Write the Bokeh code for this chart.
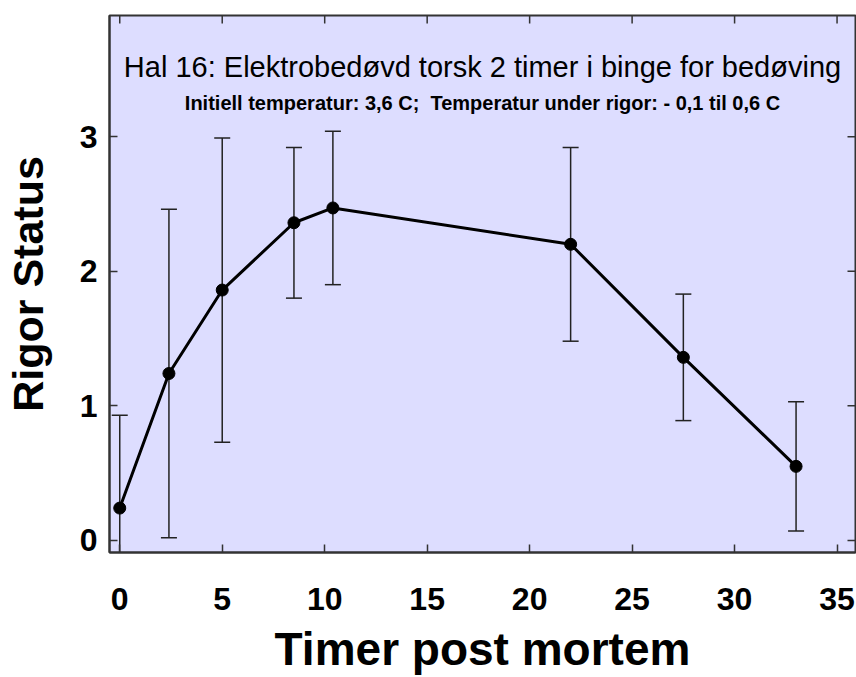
from bokeh.plotting import figure
from bokeh.models import LinearAxis, Range1d, Label, FixedTicker
from bokeh.embed import file_html
from bokeh.resources import INLINE

# data
hours = [0, 2.4, 5.0, 8.5, 10.4, 22.0, 27.5, 33.0]
rigor = [0.24, 1.24, 1.86, 2.36, 2.47, 2.20, 1.36, 0.55]
err = [0.69, 1.22, 1.13, 0.56, 0.57, 0.72, 0.47, 0.48]
x_ticks = [0, 5, 10, 15, 20, 25, 30, 35]
y_ticks = [0, 1, 2, 3]
title_text = "Hal 16: Elektrobedøvd torsk 2 timer i binge for bedøving"
subtitle_text = "Initiell temperatur: 3,6 C;\u00a0 Temperatur under rigor: - 0,1 til 0,6 C"

upper = [r + e for r, e in zip(rigor, err)]
lower = [r - e for r, e in zip(rigor, err)]

FONT = "Liberation Sans"
TICK = "#333333"

p = figure(width=856, height=677, output_backend="svg", toolbar_location=None,
           x_range=Range1d(-0.5, 35.9), y_range=Range1d(-0.09, 3.9),
           x_axis_location=None, y_axis_location=None,
           min_border_left=109, min_border_right=1, min_border_top=15, min_border_bottom=123)
p.background_fill_color = "#DDDDFF"
p.border_fill_color = "white"
p.outline_line_color = TICK
p.outline_line_width = 2
p.xgrid.visible = False
p.ygrid.visible = False

xb = LinearAxis(axis_label="Timer post mortem", ticker=FixedTicker(ticks=x_ticks))
yl = LinearAxis(axis_label="Rigor Status", ticker=FixedTicker(ticks=y_ticks))
for ax in (xb, yl):
    ax.major_tick_in = 8
    ax.major_tick_out = 0
    ax.minor_tick_in = 0
    ax.minor_tick_out = 0
    ax.major_tick_line_color = TICK
    ax.major_tick_line_width = 1.5
    ax.axis_line_color = TICK
    ax.axis_line_width = 2
    ax.major_label_text_font = FONT
    ax.major_label_text_font_style = "bold"
    ax.major_label_text_font_size = "32px"
    ax.major_label_text_color = "black"
    ax.axis_label_text_font = FONT
    ax.axis_label_text_font_style = "bold"
    ax.axis_label_text_color = "black"
xb.major_label_standoff = 35
yl.major_label_standoff = 12
xb.axis_label_text_font_size = "46px"
xb.axis_label_standoff = 10
yl.axis_label_text_font_size = "43px"
yl.axis_label_standoff = 25
p.add_layout(xb, "below")
p.add_layout(yl, "left")

# inner ticks on the top and right edges of the frame
p.scatter(x=x_ticks, y=[p.y_range.end] * len(x_ticks), marker="dash", angle=1.5708,
          size=16, line_color=TICK, line_width=1.5)
p.scatter(x=[p.x_range.end] * len(y_ticks), y=y_ticks, marker="dash",
          size=16, line_color=TICK, line_width=1.5)

# error bars
p.segment(x0=hours, y0=lower, x1=hours, y1=upper, line_color="#222222", line_width=1.5)
p.scatter(x=hours + hours, y=upper + lower, marker="dash", size=16,
          line_color="#222222", line_width=1.5)
# line and points
p.line(hours, rigor, line_color="black", line_width=3)
p.scatter(hours, rigor, size=12, fill_color="black", line_color="black")

xc = (p.x_range.start + p.x_range.end) / 2
p.add_layout(Label(x=xc, y=3.52, text=title_text, text_align="center",
                   text_baseline="alphabetic", text_font=FONT,
                   text_font_size="29px", text_color="black"))
p.add_layout(Label(x=xc, y=3.25, text=subtitle_text, text_align="center",
                   text_baseline="alphabetic", text_font=FONT, text_font_style="bold",
                   text_font_size="20px", text_color="black"))

open("out.html", "w").write(file_html(p, INLINE))
